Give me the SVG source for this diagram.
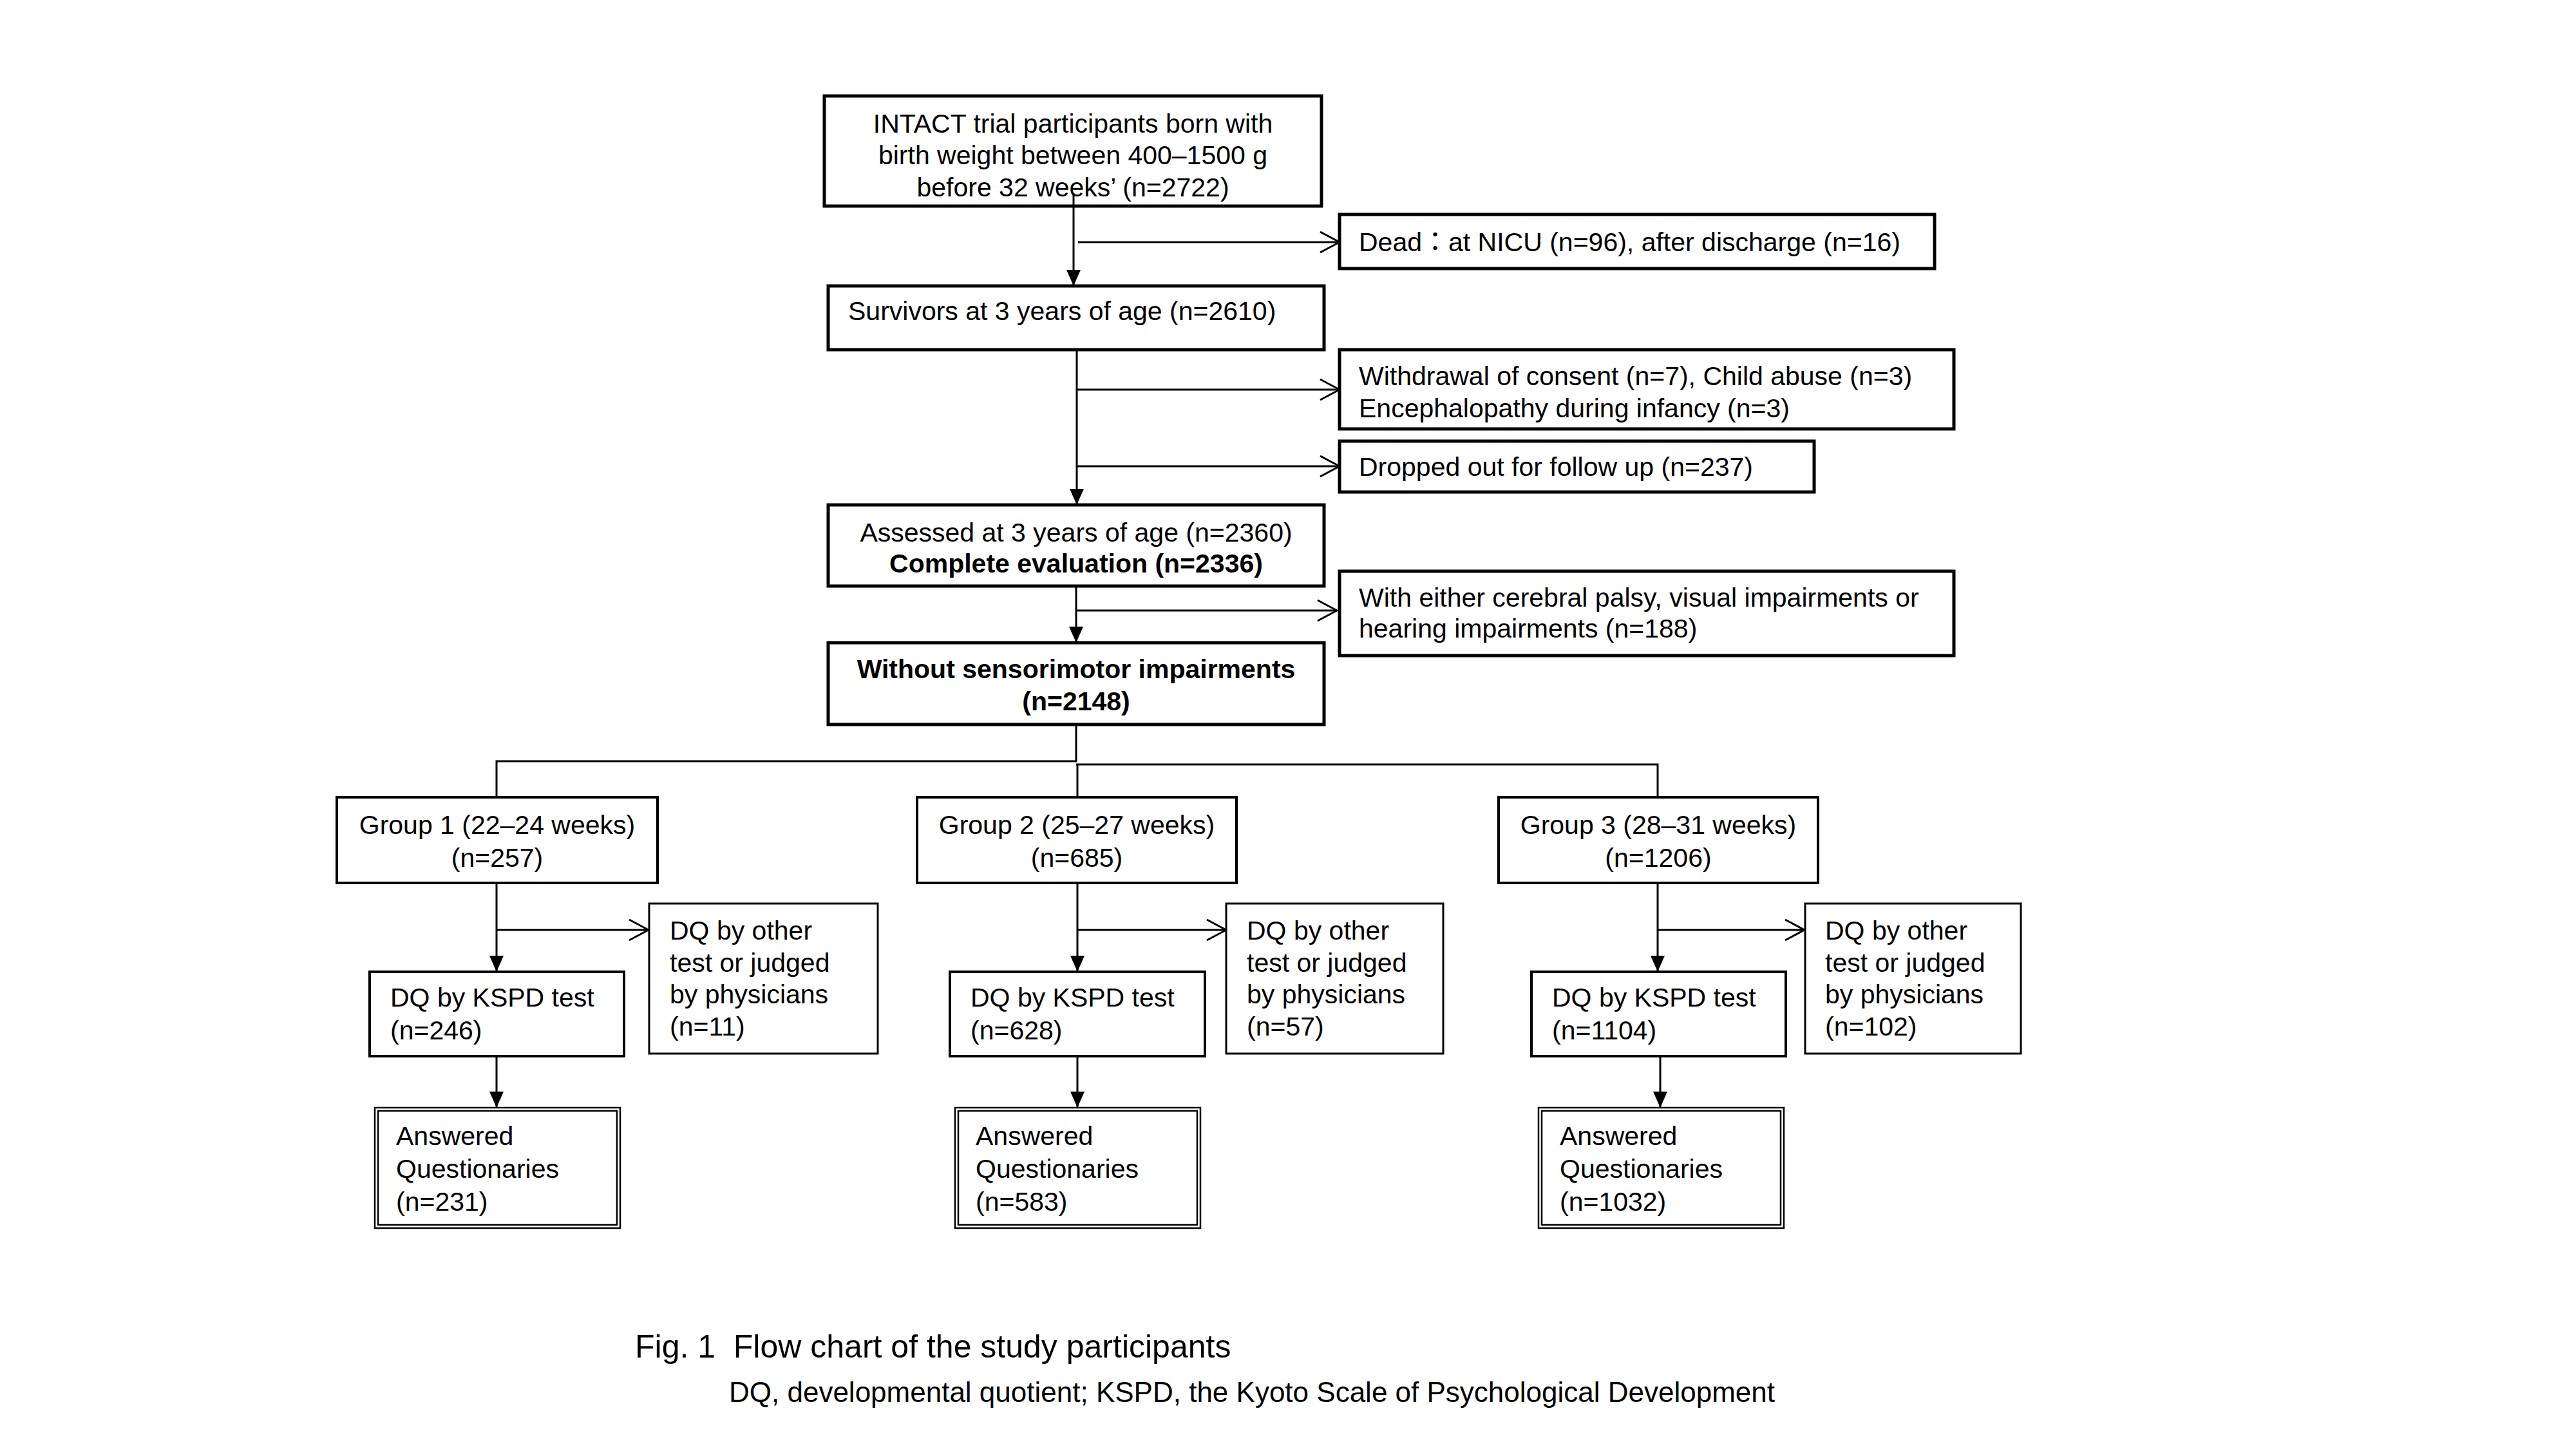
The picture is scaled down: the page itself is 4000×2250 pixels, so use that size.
<svg xmlns="http://www.w3.org/2000/svg" width="4000" height="2250" viewBox="0 0 4000 2250">
<style>
text{font-family:"Liberation Sans",Arial,"Noto Sans CJK JP",sans-serif;font-size:41px;fill:#000}
.c{text-anchor:middle}
.b{font-weight:bold}
.box{fill:#fff;stroke:#000;stroke-width:5}
.box4{fill:#fff;stroke:#000;stroke-width:4}
.box3{fill:#fff;stroke:#000;stroke-width:3}
.dbl{fill:none;stroke:#000;stroke-width:2.5}
.ln{fill:none;stroke:#000;stroke-width:3}
.cap{font-size:50px;white-space:pre}
.cap2{font-size:44px}
</style>
<defs>
<marker id="fa" markerUnits="userSpaceOnUse" markerWidth="26" markerHeight="24" refX="25" refY="11" orient="auto" viewBox="0 0 26 22">
<path d="M0,0 L25,11 L0,22 z" fill="#000"/>
</marker>
<marker id="oa" markerUnits="userSpaceOnUse" markerWidth="34" markerHeight="36" refX="31" refY="17" orient="auto" viewBox="0 0 34 34">
<path d="M1,1 L31,17 L1,33" fill="none" stroke="#000" stroke-width="3"/>
</marker>
</defs>
<rect width="4000" height="2250" fill="#fff"/>
<g id="connectors">
<line class="ln" x1="1667" y1="300" x2="1667" y2="444" marker-end="url(#fa)"/>
<line class="ln" x1="1674" y1="376" x2="2080" y2="376" marker-end="url(#oa)"/>
<line class="ln" x1="1672" y1="543" x2="1672" y2="784" marker-end="url(#fa)"/>
<line class="ln" x1="1672" y1="605" x2="2080" y2="605" marker-end="url(#oa)"/>
<line class="ln" x1="1672" y1="724" x2="2080" y2="724" marker-end="url(#oa)"/>
<line class="ln" x1="1671" y1="910" x2="1671" y2="998" marker-end="url(#fa)"/>
<line class="ln" x1="1671" y1="948" x2="2076" y2="948" marker-end="url(#oa)"/>
<polyline class="ln" points="1671,1125 1671,1182 771,1182 771,1238"/>
<polyline class="ln" points="1671,1187 2574,1187 2574,1238"/>
<line class="ln" x1="1673" y1="1187" x2="1673" y2="1238"/>
<line class="ln" x1="771" y1="1371" x2="771" y2="1509" marker-end="url(#fa)"/>
<line class="ln" x1="771" y1="1444" x2="1007" y2="1444" marker-end="url(#oa)"/>
<line class="ln" x1="771" y1="1640" x2="771" y2="1720" marker-end="url(#fa)"/>
<line class="ln" x1="1673" y1="1371" x2="1673" y2="1509" marker-end="url(#fa)"/>
<line class="ln" x1="1673" y1="1444" x2="1904" y2="1444" marker-end="url(#oa)"/>
<line class="ln" x1="1673" y1="1640" x2="1673" y2="1720" marker-end="url(#fa)"/>
<line class="ln" x1="2574" y1="1371" x2="2574" y2="1509" marker-end="url(#fa)"/>
<line class="ln" x1="2575" y1="1444" x2="2802" y2="1444" marker-end="url(#oa)"/>
<line class="ln" x1="2578" y1="1640" x2="2578" y2="1720" marker-end="url(#fa)"/>
</g>
<g id="n-top">
<rect class="box" x="1280" y="149" width="772" height="171" fill="none" style="fill:none"/>
<text class="c" x="1666" y="206">INTACT trial participants born with</text>
<text class="c" x="1666" y="255">birth weight between 400–1500 g</text>
<text class="c" x="1666" y="305">before 32 weeks’ (n=2722)</text>
</g>
<g id="n-dead">
<rect class="box" x="2080" y="333" width="924" height="84"/>
<text x="2110" y="390">Dead：at NICU (n=96), after discharge (n=16)</text>
</g>
<g id="n-survivors">
<rect class="box" x="1286" y="444" width="770" height="99"/>
<text x="1317" y="497">Survivors at 3 years of age (n=2610)</text>
</g>
<g id="n-withdrawal">
<rect class="box" x="2080" y="543" width="954" height="123"/>
<text x="2110" y="598">Withdrawal of consent (n=7), Child abuse (n=3)</text>
<text x="2110" y="648">Encephalopathy during infancy (n=3)</text>
</g>
<g id="n-dropped">
<rect class="box" x="2080" y="685" width="737" height="79"/>
<text x="2110" y="739">Dropped out for follow up (n=237)</text>
</g>
<g id="n-assessed">
<rect class="box" x="1286" y="784" width="770" height="126"/>
<text class="c" x="1671" y="841">Assessed at 3 years of age (n=2360)</text>
<text class="c b" x="1671" y="889">Complete evaluation (n=2336)</text>
</g>
<g id="n-with">
<rect class="box" x="2080" y="887" width="954" height="131"/>
<text x="2110" y="942">With either cerebral palsy, visual impairments or</text>
<text x="2110" y="990">hearing impairments (n=188)</text>
</g>
<g id="n-without">
<rect class="box" x="1286" y="998" width="770" height="127"/>
<text class="c b" x="1671" y="1053">Without sensorimotor impairments</text>
<text class="c b" x="1671" y="1103">(n=2148)</text>
</g>
<g id="n-group1">
<rect class="box4" x="523" y="1238" width="498" height="133"/>
<text class="c" x="772" y="1295">Group 1 (22–24 weeks)</text>
<text class="c" x="772" y="1346">(n=257)</text>
</g>
<g id="n-other1">
<rect class="box3" x="1008" y="1403" width="355" height="233"/>
<text x="1040" y="1459">DQ by other</text>
<text x="1040" y="1509">test or judged</text>
<text x="1040" y="1558">by physicians</text>
<text x="1040" y="1608">(n=11)</text>
</g>
<g id="n-kspd1">
<rect class="box4" x="574" y="1509" width="395" height="131"/>
<text x="606" y="1563">DQ by KSPD test</text>
<text x="606" y="1614">(n=246)</text>
</g>
<g id="n-answered1">
<rect class="dbl" x="582" y="1720" width="381" height="187"/>
<rect class="dbl" x="587" y="1725" width="371" height="177"/>
<text x="615" y="1778">Answered</text>
<text x="615" y="1829">Questionaries</text>
<text x="615" y="1880">(n=231)</text>
</g>
<g id="n-group2">
<rect class="box4" x="1424" y="1238" width="496" height="133"/>
<text class="c" x="1672" y="1295">Group 2 (25–27 weeks)</text>
<text class="c" x="1672" y="1346">(n=685)</text>
</g>
<g id="n-other2">
<rect class="box3" x="1904" y="1403" width="337" height="233"/>
<text x="1936" y="1459">DQ by other</text>
<text x="1936" y="1509">test or judged</text>
<text x="1936" y="1558">by physicians</text>
<text x="1936" y="1608">(n=57)</text>
</g>
<g id="n-kspd2">
<rect class="box4" x="1475" y="1509" width="396" height="131"/>
<text x="1507" y="1563">DQ by KSPD test</text>
<text x="1507" y="1614">(n=628)</text>
</g>
<g id="n-answered2">
<rect class="dbl" x="1483" y="1720" width="381" height="187"/>
<rect class="dbl" x="1488" y="1725" width="371" height="177"/>
<text x="1515" y="1778">Answered</text>
<text x="1515" y="1829">Questionaries</text>
<text x="1515" y="1880">(n=583)</text>
</g>
<g id="n-group3">
<rect class="box4" x="2327" y="1238" width="496" height="133"/>
<text class="c" x="2575" y="1295">Group 3 (28–31 weeks)</text>
<text class="c" x="2575" y="1346">(n=1206)</text>
</g>
<g id="n-other3">
<rect class="box3" x="2803" y="1403" width="335" height="233"/>
<text x="2834" y="1459">DQ by other</text>
<text x="2834" y="1509">test or judged</text>
<text x="2834" y="1558">by physicians</text>
<text x="2834" y="1608">(n=102)</text>
</g>
<g id="n-kspd3">
<rect class="box4" x="2378" y="1509" width="395" height="131"/>
<text x="2410" y="1563">DQ by KSPD test</text>
<text x="2410" y="1614">(n=1104)</text>
</g>
<g id="n-answered3">
<rect class="dbl" x="2389" y="1720" width="381" height="187"/>
<rect class="dbl" x="2394" y="1725" width="371" height="177"/>
<text x="2422" y="1778">Answered</text>
<text x="2422" y="1829">Questionaries</text>
<text x="2422" y="1880">(n=1032)</text>
</g>
<g id="caption">
<text class="cap" x="986" y="2108">Fig. 1  Flow chart of the study participants</text>
<text class="cap2" x="1132" y="2177">DQ, developmental quotient; KSPD, the Kyoto Scale of Psychological Development</text>
</g>
</svg>
